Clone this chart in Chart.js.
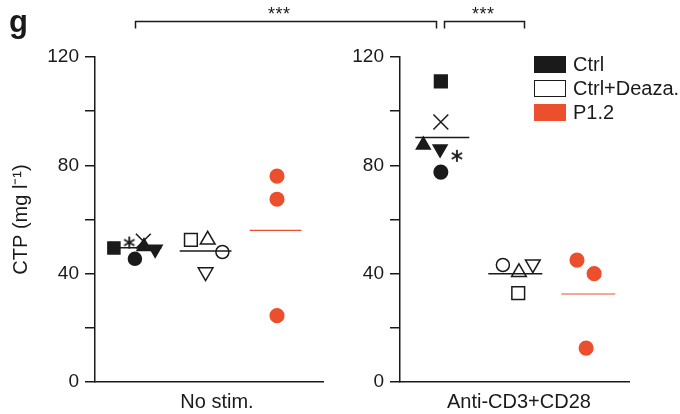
<!DOCTYPE html>
<html>
<head>
<meta charset="utf-8">
<script src="https://cdn.jsdelivr.net/npm/chart.js@4"></script>
<style>
  body { margin: 0; background: #fff; }
  #wrap { position: relative; width: 680px; height: 414px; font-family: "Liberation Sans", Arial, sans-serif; color: #1a1a1a; }
  #wrap canvas { position: absolute; top: 0; }
  #left { left: 0; }
  #right { left: 340px; }
  #marks { left: 0; pointer-events: none; }
  .txt { position: absolute; white-space: nowrap; }
  .sw { position: absolute; left: 534px; width: 32px; height: 17px; box-sizing: border-box; }
</style>
</head>
<body>
<div id="wrap">
  <canvas id="left" width="340" height="414"></canvas>
  <canvas id="right" width="340" height="414"></canvas>
  <canvas id="marks" width="680" height="414"></canvas>
  <div class="txt" style="left:9px;top:6px;font-weight:bold;font-size:31px;line-height:31px;">g</div>
  <div class="txt" style="left:268px;top:4px;font-size:18px;letter-spacing:0.5px;">***</div>
  <div class="txt" style="left:472px;top:4px;font-size:18px;letter-spacing:0.5px;">***</div>
  <div class="sw" style="top:56px;background:#1a1a1a;"></div>
  <div class="sw" style="top:80px;border:1.5px solid #1a1a1a;background:#fff;"></div>
  <div class="sw" style="top:104px;background:#ec4f2d;"></div>
  <div class="txt" style="left:573px;top:53px;font-size:20px;">Ctrl</div>
  <div class="txt" style="left:573px;top:77px;font-size:20px;">Ctrl+Deaza.</div>
  <div class="txt" style="left:573px;top:101px;font-size:20px;">P1.2</div>
</div>
<script>
// CTP values (mg/l) per well
const conditions = ["No stim.", "Anti-CD3+CD28"];
const yTicks = [0, 40, 80, 120];

// No stim.
const ctrlNoStim   = [49.5, 51.5, 52, 50, 45.5, 49];     // sq, *, x, tri, circ, tri-down
const deazaNoStim  = [52.5, 52.5, 48, 40.6];             // sq, tri, circ, tri-down
const p12NoStim    = [76, 67.5, 24.5];

// Anti-CD3+CD28
const ctrlStim  = [111, 96, 87.5, 86, 83.5, 77.5];       // sq, x, tri, tri-down, *, circ
const deazaStim = [43.2, 40.5, 43.5, 32.8];              // circ, tri, tri-down, sq
const p12Stim   = [45, 40, 12.5];

// horizontal jitter of the dots inside each group (in group units)
const ctrlNoStimJit  = [-0.31, -0.09, 0.11, 0.12, -0.01, 0.28];
const deazaNoStimJit = [-0.21, 0.03, 0.24, 0];
const p12NoStimJit   = [0.02, 0.02, 0.02];
const ctrlStimJit    = [-0.02, -0.02, -0.26, -0.03, 0.2, -0.02];
const deazaStimJit   = [-0.17, 0.05, 0.24, 0.04];
const p12StimJit     = [-0.155, 0.08, -0.03];

const BLACK = "#1a1a1a";
const RED = "#ec4f2d";
const FONT = "'Liberation Sans', Arial, sans-serif";

function asterisk(r, lw) {
  const s = Math.ceil(2 * r + lw + 2);
  const c = document.createElement("canvas");
  c.width = c.height = s;
  const ctx = c.getContext("2d");
  ctx.strokeStyle = BLACK;
  ctx.lineWidth = lw;
  ctx.translate(s / 2, s / 2);
  for (let k = 0; k < 3; k++) {
    const a = Math.PI / 2 + k * Math.PI / 3;
    ctx.beginPath();
    ctx.moveTo(Math.cos(a) * r, Math.sin(a) * r);
    ctx.lineTo(-Math.cos(a) * r, -Math.sin(a) * r);
    ctx.stroke();
  }
  return c;
}
const star = asterisk(6, 1.8);

const mean = (arr) => arr.reduce((a, b) => a + b, 0) / arr.length;
const pts = (vals, jit, g) => vals.map((v, i) => ({ x: g + jit[i], y: v }));
const meanLine = (vals, g, color, w) => ({
  type: "line",
  data: [{ x: g - 0.37, y: mean(vals) }, { x: g + 0.37, y: mean(vals) }],
  borderColor: color,
  borderWidth: w,
  pointRadius: 0,
  order: 0
});

function markers(vals, jit, g, styles, sizes, rot, fill, color) {
  return {
    type: "scatter",
    data: pts(vals, jit, g),
    pointStyle: styles,
    pointRadius: sizes,
    rotation: rot,
    pointBackgroundColor: fill,
    pointBorderColor: color,
    pointBorderWidth: 1.5,
    order: 1
  };
}

function panelOptions(opts) {
  return {
    responsive: false,
    animation: false,
    layout: { padding: { top: 57, right: opts.padRight, left: 0, bottom: 0 } },
    plugins: { legend: { display: false }, tooltip: { enabled: false } },
    scales: {
      x: {
        type: "linear",
        min: opts.xmin,
        max: opts.xmax,
        afterBuildTicks: (s) => { s.ticks = [{ value: opts.labelAt }]; },
        afterFit: (s) => { s.height = 32; },
        ticks: { callback: () => opts.label, color: BLACK, font: { family: FONT, size: 20 }, padding: 8, maxRotation: 0, autoSkip: false },
        grid: { display: false, drawTicks: false },
        border: { display: true, color: BLACK, width: 1.5 }
      },
      y: {
        min: 0,
        max: 120,
        afterBuildTicks: (s) => { s.ticks = [0, 20, 40, 60, 80, 100, 120].map(v => ({ value: v })); },
        afterFit: (s) => { s.width = opts.yWidth; },
        ticks: {
          callback: (v) => yTicks.includes(v) ? String(v) : "",
          color: BLACK, font: { family: FONT, size: 19 }, padding: 6
        },
        grid: { drawOnChartArea: false, drawTicks: true, tickLength: 10, color: BLACK, lineWidth: 1.5 },
        border: { display: true, color: BLACK, width: 1.5 },
        title: opts.title ? { display: true, text: "CTP (mg l\u207B\u00B9)", color: BLACK, font: { family: FONT, size: 20 }, padding: { top: 9, bottom: 0 } } : { display: false }
      }
    }
  };
}

const filled = BLACK;
const open = "rgba(0,0,0,0)";

const leftChart = new Chart(document.getElementById("left"), {
  data: {
    datasets: [
      meanLine(ctrlNoStim, 1, BLACK, 1.5),
      meanLine(deazaNoStim, 2, BLACK, 1.5),
      meanLine(p12NoStim, 3, RED, 1.2),
      markers(ctrlNoStim, ctrlNoStimJit, 1,
        ["rect", star, "crossRot", "triangle", "circle", "triangle"],
        [8.5, 6, 10.5, 8, 6.5, 8], [0, 0, 0, 0, 0, 180], filled, BLACK),
      markers(deazaNoStim, deazaNoStimJit, 2,
        ["rect", "triangle", "circle", "triangle"],
        [9, 8.5, 6.5, 8.5], [0, 0, 0, 180], open, BLACK),
      markers(p12NoStim, p12NoStimJit, 3, "circle", 6.8, 0, RED, RED)
    ]
  },
  options: panelOptions({ padRight: 17, yWidth: 95, xmin: 0.42, xmax: 0.42 + 228 / 70, labelAt: 2.163, label: conditions[0], title: true })
});

const rightChart = new Chart(document.getElementById("right"), {
  data: {
    datasets: [
      meanLine(ctrlStim, 1, BLACK, 1.5),
      meanLine(deazaStim, 2, BLACK, 1.5),
      meanLine(p12Stim, 3, RED, 1.2),
      markers(ctrlStim, ctrlStimJit, 1,
        ["rect", "crossRot", "triangle", "triangle", star, "circle"],
        [9, 10.5, 8, 8, 6, 6.8], [0, 0, 0, 180, 0, 0], filled, BLACK),
      markers(deazaStim, deazaStimJit, 2,
        ["circle", "triangle", "triangle", "rect"],
        [6.5, 8.5, 8.5, 9], [0, 0, 180, 0], open, BLACK),
      markers(p12Stim, p12StimJit, 3, "circle", 6.8, 0, RED, RED)
    ]
  },
  options: panelOptions({ padRight: 51, yWidth: 60, xmin: 0.4205, xmax: 0.4205 + 229 / 73, labelAt: 2.05, label: conditions[1], title: false })
});

// significance brackets across both panels
const m = document.getElementById("marks").getContext("2d");
m.strokeStyle = BLACK;
m.lineWidth = 1.5;
function bracket(x1, x2, y) {
  m.beginPath();
  m.moveTo(x1, y + 7);
  m.lineTo(x1, y);
  m.lineTo(x2, y);
  m.lineTo(x2, y + 7);
  m.stroke();
}
bracket(135.5, 436.5, 21.5);
bracket(444.5, 524.5, 21.5);
</script>
</body>
</html>
